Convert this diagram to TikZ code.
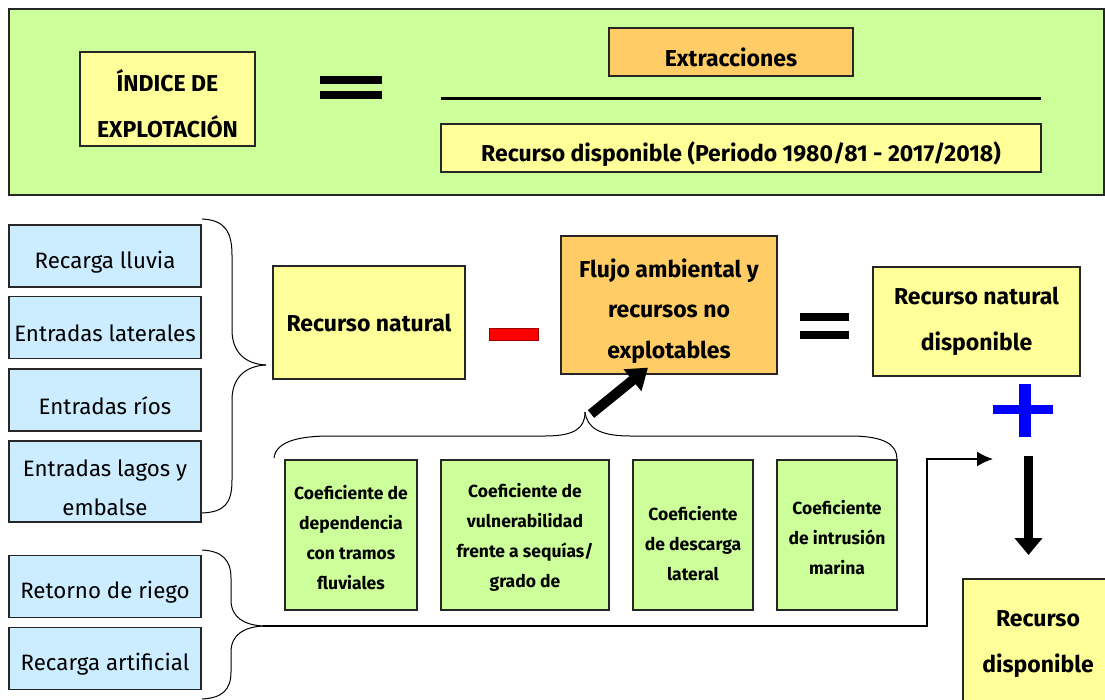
\documentclass[tikz,border=0pt]{standalone}
\usepackage{fontspec}
\setmainfont{Fira Sans}
\usetikzlibrary{arrows.meta,calc}
\definecolor{panelgreen}{HTML}{CCFF99}
\definecolor{boxyellow}{HTML}{FFFF99}
\definecolor{boxorange}{HTML}{FFCC66}
\definecolor{boxblue}{HTML}{CCECFF}
\definecolor{minusred}{HTML}{FF0000}
\definecolor{plusblue}{HTML}{0000FF}
\tikzset{
  box/.style={draw=black!85, line width=1.3pt, inner sep=0pt},
  headtext/.style={align=center, inner sep=0pt, font=\fontsize{23}{46}\selectfont\bfseries},
  flowtext/.style={align=center, inner sep=0pt, font=\fontsize{23}{40.5}\selectfont\bfseries},
  bluetext/.style={align=center, inner sep=0pt, font=\fontsize{22.3}{39}\selectfont},
  coeftext/.style={align=center, inner sep=0pt, font=\fontsize{17.5}{30}\selectfont\bfseries},
  inbox/.style={box, fill=boxblue, minimum width=192pt},
  coefbox/.style={box, fill=panelgreen, minimum height=150pt},
  bracepath/.style={line width=1pt},
}
\begin{document}
\begin{tikzpicture}[x=1pt, y=-1pt]
\clip (0,0) rectangle (1105,700);
\fill[white] (0,0) rectangle (1105,700);
% top formula panel
\node[box, fill=panelgreen, minimum width=1095pt, minimum height=186pt] (panel) at (556.5,102) {};
\node[box, fill=boxyellow, minimum width=175pt, minimum height=94pt,
  label={[headtext, yshift=-5pt]center:ÍNDICE DE\\EXPLOTACIÓN}] (indice) at (167.5,99) {};
\fill (320,76) rectangle (382,84);
\fill (320,91) rectangle (382,99);
\node[box, fill=boxorange, minimum width=244pt, minimum height=48pt,
  label={[headtext, yshift=-5pt]center:Extracciones}] (extr) at (731,52) {};
\draw[line width=3pt] (441,99) -- (1041,99);
\node[box, fill=boxyellow, minimum width=600pt, minimum height=48pt,
  label={[headtext, yshift=-6pt]center:Recurso disponible (Periodo 1980/81 - 2017/2018)}] (recdisp) at (741,148) {};
% inputs
\foreach \n/\y/\h/\t in {lluvia/256/62/{Recarga lluvia}, laterales/327.5/62/{Entradas laterales}, rios/400/62/{Entradas ríos}, lagos/481.5/81/{Entradas lagos y\\embalse}, riego/586.5/62/{Retorno de riego}, artificial/658.5/62/{Recarga artificial}}
  \node[inbox, minimum height=\h pt, label={[bluetext, yshift=-6pt]center:\t}] (\n) at (105,\y) {};
% braces
\coordinate (tipA) at (266,365);
\coordinate (tipB) at (263,626);
\coordinate (tipC) at (585,412);
\draw[bracepath] (202,219) .. controls (225,220) and (232,232) .. (232,255) -- (232,330) .. controls (232,352) and (245,364) .. (tipA);
\draw[bracepath] (tipA) .. controls (245,366) and (232,378) .. (232,400) -- (232,480) .. controls (232,503) and (225,512) .. (202,513);
\draw[bracepath] (202,550) .. controls (222,551) and (231,560) .. (231,578) -- (231,600) .. controls (231,618) and (245,625) .. (tipB);
\draw[bracepath] (tipB) .. controls (245,627) and (231,634) .. (231,652) -- (231,672) .. controls (231,690) and (222,698) .. (202,699);
\draw[bracepath] (274,458) .. controls (276,441) and (300,436) .. (330,436) -- (545,436) .. controls (575,436) and (585,428) .. (tipC);
\draw[bracepath] (tipC) .. controls (587,428) and (600,436) .. (630,436) -- (850,436) .. controls (885,436) and (897,445) .. (897,459);
% middle equation
\node[box, fill=boxyellow, minimum width=192pt, minimum height=113pt,
  label={[headtext]center:Recurso natural}] (recnat) at (369,322.5) {};
\filldraw[fill=minusred, draw=red!60!black] (489,328) rectangle (538,340);
\node[box, fill=boxorange, minimum width=216pt, minimum height=138pt,
  label={[flowtext, yshift=-6pt]center:Flujo ambiental y\\recursos no\\explotables}] (flujo) at (669,305) {};
\fill (800,313) rectangle (849,321);
\fill (800,331) rectangle (849,339);
\node[box, fill=boxyellow, minimum width=207pt, minimum height=109pt,
  label={[headtext]center:Recurso natural\\disponible}] (rnd) at (976.5,321.5) {};
\fill[plusblue] (993,405) rectangle (1053,414);
\fill[plusblue] (1019,384) rectangle (1031,437);
% coefficients
\foreach \n/\x/\w/\d/\t in {dep/351/132/3/{Coeficiente de\\dependencia\\con tramos\\fluviales}, vul/525/168/2/{Coeficiente de\\vulnerabilidad\\frente a sequías/\\grado de}, desc/693/120/9/{Coeficiente\\de descarga\\lateral}, intr/837/120/3/{Coeficiente\\de intrusión\\marina}}
  \node[coefbox, minimum width=\w pt, label={[coeftext, yshift=-\d pt]center:\t}] (\n) at (\x,535) {};
\draw[line width=10pt, -{Triangle[length=20pt,width=27pt]}] (591,414) -- ($(flujo.south)+(-21,-7)$);
% result
\node[box, fill=boxyellow, minimum width=150pt, minimum height=140pt,
  label={[headtext, yshift=5pt]center:Recurso\\disponible}] (rd) at (1038,649) {};
\coordinate (into) at (993,459);
\draw[line width=1.8pt, -{Latex[length=16pt,width=15pt]}] (tipB) -- ++(664,0) |- (into);
\draw[line width=9pt, -{Triangle[length=17pt,width=27pt]}] (1028.5,456) -- (1028.5,555);
\end{tikzpicture}
\end{document}
